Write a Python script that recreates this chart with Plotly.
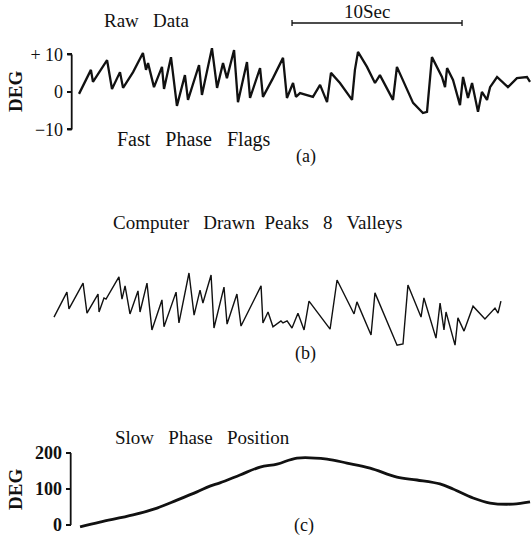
import plotly.graph_objects as go

W, H = 531, 538

# Panel (a): raw data (time in s, eye position in deg)
raw_t = [0.06, 0.76, 0.88, 1.71, 2.0, 2.47, 2.65, 3.24, 3.82, 4.0, 4.12, 4.47, 4.94, 5.06, 5.47,
         5.82, 6.29, 6.47, 7.12, 7.29, 7.88, 8.18, 8.53, 8.76, 9.18, 9.41, 9.94, 10.12, 10.71,
         10.88, 11.47, 12.06, 12.29, 12.65, 12.82, 13.06, 13.82, 14.24, 14.65, 14.88, 15.41,
         16.12, 16.29, 16.47, 17.0, 17.47, 17.76, 18.53, 18.76, 19.35, 19.71, 20.29, 20.53,
         20.82, 21.41, 21.59, 21.71, 22.06, 22.47, 22.65, 22.94, 23.18, 23.53, 23.76, 24.06,
         24.24, 24.65, 25.29, 25.82, 26.41, 26.59]
raw_deg = [-0.5, 5.9, 2.7, 8.5, 0.8, 5.3, 1.1, 5.3, 10.4, 5.9, 7.7, 1.3, 6.7, 0.8, 9.3,
           -3.7, 4.5, -2.1, 7.2, -0.8, 11.7, 1.1, 7.7, 3.7, 11.2, -2.7, 8.0, -1.6, 6.4,
           -1.3, 3.7, 9.1, -1.6, 2.4, -1.3, -0.3, -1.3, 1.9, -2.7, 5.1, 2.4,
           -2.1, 5.9, 10.7, 6.7, 2.4, 4.5, -2.1, 6.7, 0.5, -2.9, -5.6, -5.3,
           9.3, 4.0, 1.3, 6.4, 3.2, -3.5, 4.0, -1.6, 2.4, -5.3, 0.0, -2.1,
           1.3, 4.0, 1.3, 3.7, 4.0, 2.7]

# Panel (b): computer drawn peaks & valleys
pv_t = [0, 0.76, 0.88, 1.71, 1.94, 2.59, 2.65, 2.94, 3.06, 3.82, 4.0, 4.18, 4.47, 4.94, 5.06,
        5.47, 5.76, 6.35, 6.47, 7.18, 7.35, 7.94, 8.24, 8.59, 8.76, 9.24, 9.41, 10.0, 10.18,
        10.76, 11.0, 12.18, 12.29, 12.59, 12.88, 13.35, 13.47, 13.71, 14.0, 14.35, 14.71,
        15.0, 16.24, 16.65, 17.65, 17.82, 18.65, 18.88, 20.18, 20.53, 20.82, 21.59, 21.76,
        22.47, 22.71, 22.94, 23.06, 23.59, 23.76, 24.12, 24.65, 25.35, 25.94, 26.12, 26.29]
pv_deg = [-1.3, 5.1, 0.8, 7.4, -0.3, 4.6, 0, 3.6, 3.3, 9.0, 3.3, 6.7, -0.5, 5.4, 0,
          7.4, -4.6, 3.1, -3.8, 5.1, -2.8, 10.0, -0.8, 5.6, 2.3, 9.5, -4.1, 6.4, -3.1,
          4.6, -3.6, 6.7, -2.8, 0, -3.8, -2.3, -2.8, -2.3, -4.1, -0.3, -4.6,
          2.8, -4.4, 8.2, -0.5, 2.6, -5.9, 4.9, -8.5, -8.2, 6.9, -1.3, 3.6,
          -6.7, 2.3, -4.6, 0, -8.5, -1.5, -4.9, 1.5, -1.8, 1.0, -0.3, 2.8]

# Panel (c): slow phase position
sp_t = [0.12, 1.29, 3.24, 4.65, 5.82, 7.0, 7.76, 8.35, 9.53, 10.71, 11.71, 12.88, 14.65,
        15.82, 17.18, 18.76, 19.94, 21.29, 22.06, 23.24, 24.24, 25.59, 26.59]
sp_deg = [-5, 8, 28, 47, 69, 92, 108, 117, 139, 161, 169, 186, 183,
          172, 158, 133, 125, 114, 100, 75, 61, 58, 64]

raw_ticks = [10, 0, -10]
raw_ticktext = ["+ 10", "0", "−10"]
sp_ticks = [200, 100, 0]
sp_ticktext = ["200", "100", "0"]
scale_bar = [12.59, 22.59]  # 10 s

SERIF = "Liberation Serif"
INK = "#111111"
ax_a = 71.7 / W
ax_c = 70.7 / W
# axis line positions on the time axis (styling, not data)
AXA_T = -0.37
AXC_T = -0.43
TICK_T = 0.26


def axis_path(x_line, ticks):
    """Vertical axis line with left-pointing ticks, as one polyline."""
    xs, ys = [], []
    lo, hi = min(ticks), max(ticks)
    xs += [x_line, x_line]
    ys += [lo, hi]
    for v in ticks:
        xs += [None, x_line - TICK_T, x_line]
        ys += [None, v, v]
    return xs, ys


fig = go.Figure()
fig.add_trace(go.Scatter(x=raw_t, y=raw_deg, mode="lines", xaxis="x", yaxis="y",
                         line=dict(color=INK, width=2.3), showlegend=False, hoverinfo="skip"))
fig.add_trace(go.Scatter(x=pv_t, y=pv_deg, mode="lines", xaxis="x2", yaxis="y2",
                         line=dict(color=INK, width=1.4), showlegend=False, hoverinfo="skip"))
fig.add_trace(go.Scatter(x=sp_t, y=sp_deg, mode="lines", xaxis="x", yaxis="y3",
                         line=dict(color=INK, width=2.8, shape="spline"), showlegend=False,
                         hoverinfo="skip"))

xa, ya = axis_path(AXA_T, raw_ticks)
fig.add_trace(go.Scatter(x=xa, y=ya, mode="lines", xaxis="x", yaxis="y", connectgaps=False,
                         line=dict(color=INK, width=1.8), showlegend=False, hoverinfo="skip"))
xc, yc = axis_path(AXC_T, sp_ticks)
fig.add_trace(go.Scatter(x=xc, y=yc, mode="lines", xaxis="x", yaxis="y3", connectgaps=False,
                         line=dict(color=INK, width=1.8), showlegend=False, hoverinfo="skip"))


def ann(text, x, y, size=19, angle=0, bold=False):
    return dict(text=text, x=x / W, y=1 - y / H, xref="paper", yref="paper",
                showarrow=False, xanchor="center", yanchor="middle", textangle=angle,
                font=dict(family=SERIF, size=size, color=INK,
                          weight="bold" if bold else "normal"))


annotations = [
    ann("Raw   Data", 147, 20),
    ann("10Sec", 367, 12),
    ann("Fast   Phase   Flags", 194, 139, 20),
    ann("(a)", 306, 156, 18),
    ann("Computer   Drawn  Peaks   8   Valleys", 257, 222),
    ann("(b)", 305, 353, 18),
    ann("Slow   Phase   Position", 202, 437),
    ann("(c)", 304, 525, 18),
    ann("DEG", 15, 92, 19, angle=-90, bold=True),
    ann("DEG", 15, 490, 19, angle=-90, bold=True),
]

shapes = [
    dict(type="line", xref="x", x0=scale_bar[0], x1=scale_bar[1], yref="paper",
         y0=1 - 23 / H, y1=1 - 23 / H, line=dict(color=INK, width=1.3)),
    dict(type="line", xref="x", x0=scale_bar[0], x1=scale_bar[0], yref="paper",
         y0=1 - 20 / H, y1=1 - 26 / H, line=dict(color=INK, width=1.3)),
    dict(type="line", xref="x", x0=scale_bar[1], x1=scale_bar[1], yref="paper",
         y0=1 - 20 / H, y1=1 - 26 / H, line=dict(color=INK, width=1.3)),
]

fig.update_layout(
    width=W, height=H, margin=dict(l=0, r=0, t=0, b=0),
    paper_bgcolor="white", plot_bgcolor="rgba(0,0,0,0)",
    xaxis=dict(domain=[0, 1], range=[-78 / 17, 453 / 17], visible=False, anchor="y"),
    xaxis2=dict(domain=[0, 1], range=[-54 / 17, 477 / 17], visible=False, anchor="y2"),
    yaxis=dict(domain=[0.75232, 0.91612], range=[-11, 12.5], anchor="free", position=ax_a,
               showgrid=False, zeroline=False, showline=False,
               ticks="outside", ticklen=5, tickwidth=2, tickcolor=INK,
               tickvals=raw_ticks, ticktext=raw_ticktext, automargin=False,
               tickfont=dict(family=SERIF, size=18, color=INK)),
    yaxis2=dict(domain=[0.34758, 0.50706], range=[-10, 12], anchor="x2", visible=False),
    yaxis3=dict(domain=[0.017472, 0.164684], range=[-10, 210], anchor="free", position=ax_c,
                showgrid=False, zeroline=False, showline=False,
                ticks="outside", ticklen=5, tickwidth=2, tickcolor=INK,
                tickvals=sp_ticks, ticktext=sp_ticktext, automargin=False,
                tickfont=dict(family=SERIF, size=18, color=INK, weight="bold")),
    shapes=shapes,
    annotations=annotations,
)

fig.write_html("out.html", post_script="document.body.style.margin='0px';",
               config={"displayModeBar": False})
